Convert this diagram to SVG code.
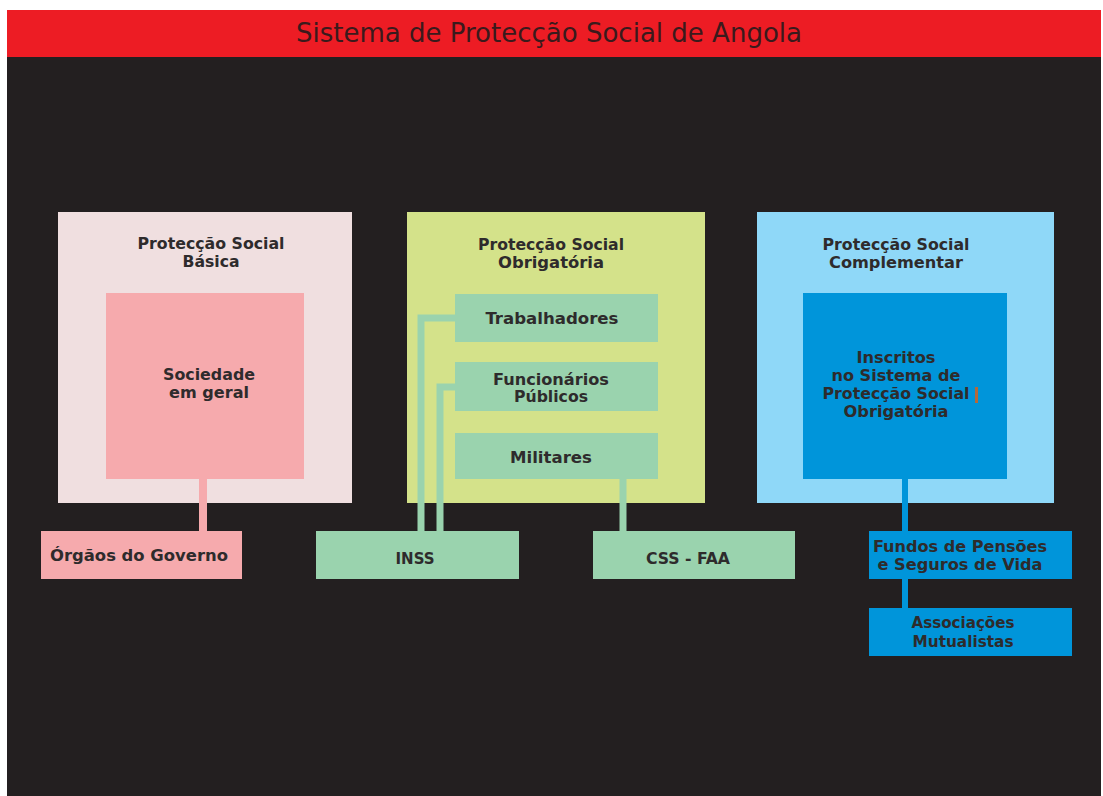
<svg xmlns="http://www.w3.org/2000/svg" width="1103" height="796" viewBox="0 0 1103 796">
<style>
.t{font-family:"DejaVu Sans Condensed","DejaVu Sans","Liberation Sans",sans-serif;font-weight:bold;font-size:15.5px;fill:#2e2b2c;text-anchor:middle}
.title{font-family:"DejaVu Sans Condensed","Liberation Sans",sans-serif;font-size:27px;fill:#3a1a1c;text-anchor:middle}
.cg{stroke:#9ad3ae;stroke-width:7;fill:none}
.cp{stroke:#f6aaad;stroke-width:8;fill:none}
.cb{stroke:#0095da;stroke-width:6;fill:none}
</style>
<rect x="0" y="0" width="1103" height="796" fill="#ffffff"/>
<rect x="7" y="57" width="1094" height="739" fill="#231f20"/>
<g id="title">
<rect x="7" y="10" width="1094" height="47" fill="#ed1c24"/>
<text class="title" x="549" y="42" textLength="506" lengthAdjust="spacingAndGlyphs">Sistema de Protecção Social de Angola</text>
</g>
<g id="basica">
<rect x="58" y="212" width="294" height="291" fill="#f0dfe0"/>
<text class="t" x="211" y="249" textLength="147" lengthAdjust="spacingAndGlyphs">Protecção Social</text>
<text class="t" x="211" y="267" textLength="57" lengthAdjust="spacingAndGlyphs">Básica</text>
</g>
<g id="obrigatoria">
<rect x="407" y="212" width="298" height="291" fill="#d4e28a"/>
<text class="t" x="551" y="250" textLength="146" lengthAdjust="spacingAndGlyphs">Protecção Social</text>
<text class="t" x="551" y="268" textLength="106" lengthAdjust="spacingAndGlyphs">Obrigatória</text>
</g>
<g id="complementar">
<rect x="757" y="212" width="297" height="291" fill="#8fd8f8"/>
<text class="t" x="896" y="250" textLength="147" lengthAdjust="spacingAndGlyphs">Protecção Social</text>
<text class="t" x="896" y="268" textLength="134" lengthAdjust="spacingAndGlyphs">Complementar</text>
</g>
<g id="connectors">
<path class="cp" d="M203 479V531"/>
<path class="cg" d="M455 318H421V531"/>
<path class="cg" d="M455 387H440V531"/>
<path class="cg" d="M623 479V531"/>
<path class="cb" d="M905 479V531"/>
<path class="cb" d="M905 579V608"/>
</g>
<g id="sociedade">
<rect x="106" y="293" width="198" height="186" fill="#f6aaad"/>
<text class="t" x="209" y="380" textLength="92" lengthAdjust="spacingAndGlyphs">Sociedade</text>
<text class="t" x="209" y="398" textLength="80" lengthAdjust="spacingAndGlyphs">em geral</text>
</g>
<g id="orgaos">
<rect x="41" y="531" width="201" height="48" fill="#f6aaad"/>
<text class="t" x="139" y="561" textLength="178" lengthAdjust="spacingAndGlyphs">Órgãos do Governo</text>
</g>
<g id="trabalhadores">
<rect x="455" y="294" width="203" height="48" fill="#9ad3ae"/>
<text class="t" x="552" y="324" textLength="133" lengthAdjust="spacingAndGlyphs">Trabalhadores</text>
</g>
<g id="funcionarios">
<rect x="455" y="362" width="203" height="49" fill="#9ad3ae"/>
<text class="t" x="551" y="385" textLength="116" lengthAdjust="spacingAndGlyphs">Funcionários</text>
<text class="t" x="551" y="402" textLength="74" lengthAdjust="spacingAndGlyphs">Públicos</text>
</g>
<g id="militares">
<rect x="455" y="433" width="203" height="46" fill="#9ad3ae"/>
<text class="t" x="551" y="463" textLength="82" lengthAdjust="spacingAndGlyphs">Militares</text>
</g>
<g id="inss">
<rect x="316" y="531" width="203" height="48" fill="#9ad3ae"/>
<text class="t" x="415" y="564" textLength="39" lengthAdjust="spacingAndGlyphs">INSS</text>
</g>
<g id="css-faa">
<rect x="593" y="531" width="202" height="48" fill="#9ad3ae"/>
<text class="t" x="688" y="564" textLength="84" lengthAdjust="spacingAndGlyphs">CSS - FAA</text>
</g>
<g id="inscritos">
<rect x="803" y="293" width="204" height="186" fill="#0095da"/>
<text class="t" x="896" y="363" textLength="79" lengthAdjust="spacingAndGlyphs">Inscritos</text>
<text class="t" x="896" y="381" textLength="129" lengthAdjust="spacingAndGlyphs">no Sistema de</text>
<text class="t" x="896" y="399" textLength="147" lengthAdjust="spacingAndGlyphs">Protecção Social</text>
<text class="t" x="896" y="417" textLength="105" lengthAdjust="spacingAndGlyphs">Obrigatória</text>
<rect x="975" y="387" width="3" height="16" fill="#b5693a"/>
</g>
<g id="fundos">
<rect x="869" y="531" width="203" height="48" fill="#0095da"/>
<text class="t" x="960" y="552" textLength="174" lengthAdjust="spacingAndGlyphs">Fundos de Pensões</text>
<text class="t" x="960" y="570" textLength="165" lengthAdjust="spacingAndGlyphs">e Seguros de Vida</text>
</g>
<g id="associacoes">
<rect x="869" y="608" width="203" height="48" fill="#0095da"/>
<text class="t" x="963" y="628" textLength="103" lengthAdjust="spacingAndGlyphs">Associações</text>
<text class="t" x="963" y="647" textLength="101" lengthAdjust="spacingAndGlyphs">Mutualistas</text>
</g>
</svg>
